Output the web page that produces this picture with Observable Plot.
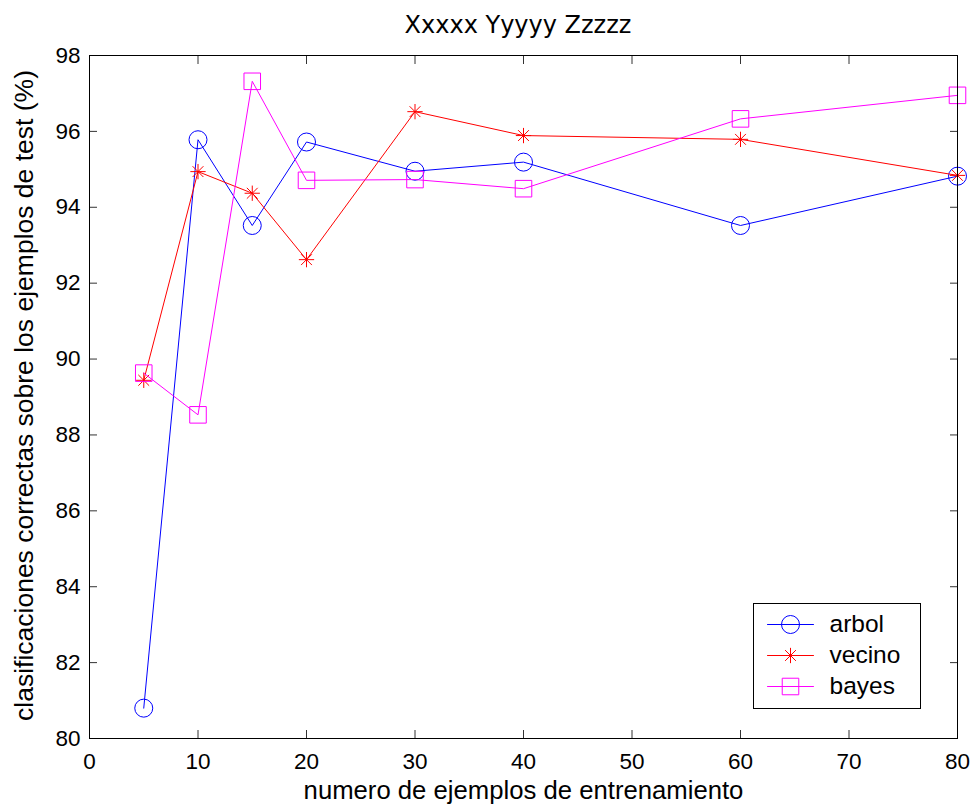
<!DOCTYPE html>
<html><head><meta charset="utf-8">
<script src="https://cdn.jsdelivr.net/npm/d3@7"></script>
<script src="https://cdn.jsdelivr.net/npm/@observablehq/plot@0.6"></script>
<style>
body{margin:0;background:#fff;}
#wrap{position:relative;width:975px;height:807px;}
#legend{position:absolute;left:753px;top:603px;}
#legend svg{border:1px solid #000;display:block;background:#fff;}
#chart svg{display:block;}
</style></head><body>
<div id="wrap"><div id="chart"></div><div id="legend"></div></div>
<script>
// ---- data ----
const ejemplos = [5, 10, 15, 20, 30, 40, 60, 80];
const arbol  = [80.80, 95.78, 93.52, 95.72, 94.95, 95.19, 93.52, 94.82];
const vecino = [89.44, 94.94, 94.37, 92.62, 96.52, 95.89, 95.79, 94.84];
const bayes  = [89.63, 88.53, 97.32, 94.71, 94.73, 94.49, 96.33, 96.95];
const seriesNames = ["arbol", "vecino", "bayes"];
const seriesColors = ["#0000ff", "#ff0000", "#ff00ff"];
const xTicks = [0, 10, 20, 30, 40, 50, 60, 70, 80];
const yTicks = [80, 82, 84, 86, 88, 90, 92, 94, 96, 98];
const titleText = "Xxxxx Yyyyy Zzzzz";
const xLabel = "numero de ejemplos de entrenamiento";
const yLabel = "clasificaciones correctas sobre los ejemplos de test (%)";

// ---- symbols (MATLAB style markers) ----
const circleSym = {draw(ctx, size) { const r = Math.sqrt(size / Math.PI); ctx.moveTo(r, 0); ctx.arc(0, 0, r, 0, 2 * Math.PI); }};
const squareSym = {draw(ctx, size) { const s = Math.sqrt(size / Math.PI) * 0.92; ctx.moveTo(-s, -s); ctx.lineTo(s, -s); ctx.lineTo(s, s); ctx.lineTo(-s, s); ctx.closePath(); }};
const starSym = {draw(ctx, size) {
  const r = Math.sqrt(size / Math.PI) * 0.85, d = r * 0.7071;
  ctx.moveTo(-r, 0); ctx.lineTo(r, 0);
  ctx.moveTo(0, -r); ctx.lineTo(0, r);
  ctx.moveTo(-d, -d); ctx.lineTo(d, d);
  ctx.moveTo(-d, d); ctx.lineTo(d, -d);
}};
const seriesSymbols = [circleSym, starSym, squareSym];
const seriesValues = [arbol, vecino, bayes];

const seriesMarks = seriesValues.flatMap((vals, k) => {
  const rows = ejemplos.map((x, i) => ({x, y: vals[i]}));
  return [
    Plot.line(rows, {x: "x", y: "y", stroke: seriesColors[k], strokeWidth: 1}),
    Plot.dot(rows, {x: "x", y: "y", stroke: seriesColors[k], fill: "none", strokeWidth: 1, symbol: seriesSymbols[k], r: 9})
  ];
});

const chart = Plot.plot({
  width: 975, height: 807,
  marginTop: 55, marginLeft: 89, marginRight: 18, marginBottom: 69,
  style: {fontFamily: "'Liberation Sans', Arial, sans-serif", fontSize: "22.5px", color: "#000", background: "#fff"},
  x: {domain: [0, 80]},
  y: {domain: [80, 98]},
  marks: [
    Plot.axisX({ticks: xTicks, tickSize: -8, tickPadding: 22.2, label: null, stroke: "#333"}),
    Plot.axisX({anchor: "top", ticks: xTicks, tickSize: -8, tickFormat: () => "", label: null, stroke: "#333"}),
    Plot.axisY({ticks: yTicks, tickSize: -8, tickPadding: 17, label: null, stroke: "#333"}),
    Plot.axisY({anchor: "right", ticks: yTicks, tickSize: -8, tickFormat: () => "", label: null, stroke: "#333"}),
    ...seriesMarks,
    Plot.frame({stroke: "#000", strokeWidth: 1}),
    Plot.text([titleText], {frameAnchor: "top", dy: -30.4, dx: -5.5, fontSize: 24, fontFamily: "'DejaVu Sans', sans-serif", lineAnchor: "middle", textAnchor: "middle"}),
    Plot.text([xLabel], {frameAnchor: "bottom", dy: 52.5, fontSize: 25.7, lineAnchor: "middle", textAnchor: "middle"}),
    Plot.text([yLabel], {frameAnchor: "left", dx: -64.5, dy: -1.5, rotate: -90, fontSize: 26.5, lineAnchor: "middle", textAnchor: "middle"})
  ]
});
document.getElementById("chart").append(chart);

// ---- legend ----
const legendMarks = seriesNames.flatMap((name, k) => {
  const seg = [{t: 0, name}, {t: 1, name}];
  return [
    Plot.line(seg, {x: "t", y: "name", stroke: seriesColors[k], strokeWidth: 1}),
    Plot.dot([name], {x: () => 0.5, y: d => d, stroke: seriesColors[k], fill: "none", strokeWidth: 1, symbol: seriesSymbols[k], r: 9})
  ];
});
const legend = Plot.plot({
  width: 166, height: 104,
  marginLeft: 13, marginRight: 107, marginTop: 19, marginBottom: 22,
  style: {fontFamily: "'Liberation Sans', Arial, sans-serif", fontSize: "24px", color: "#000", background: "#fff"},
  x: {domain: [0, 1], axis: null},
  y: {type: "point", domain: seriesNames, padding: 0, axis: null},
  marks: [
    ...legendMarks,
    Plot.text(seriesNames, {y: d => d, text: d => d, frameAnchor: "right", dx: 16, textAnchor: "start", fontSize: 24.5, lineAnchor: "middle"})
  ]
});
document.getElementById("legend").append(legend);
</script>
</body></html>
